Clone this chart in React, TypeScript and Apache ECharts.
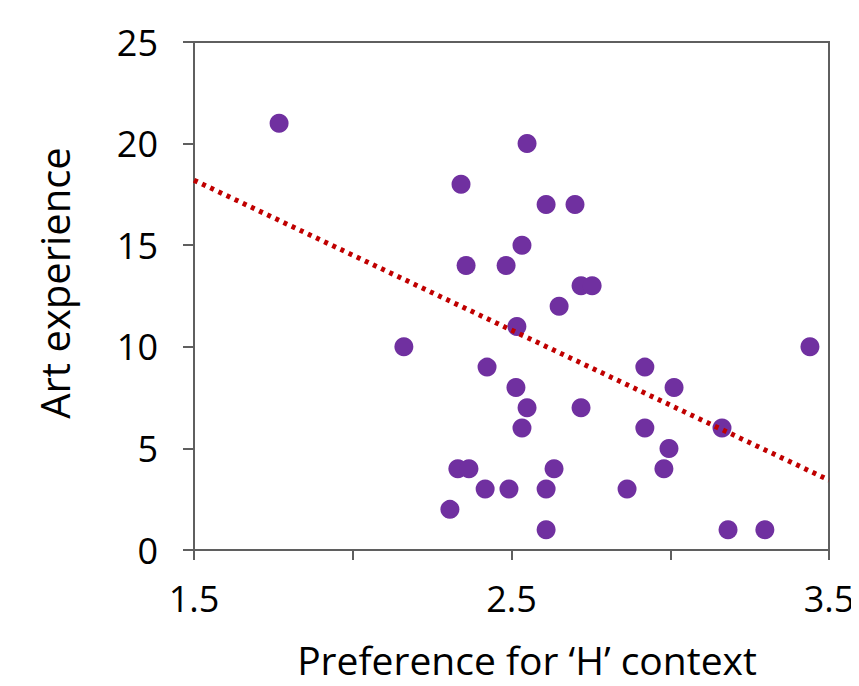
import React, { useEffect, useRef } from "react";
import * as echarts from "echarts";

const prefH: number[] = [
  1.768, 2.549, 2.341, 2.609, 2.7, 2.533, 2.357, 2.483, 2.719, 2.754, 2.65, 2.517,
  2.161, 3.44, 2.423, 2.92, 2.514, 3.012, 2.549, 2.719, 2.533, 2.92, 3.163, 2.996,
  2.331, 2.366, 2.634, 2.98, 2.417, 2.492, 2.609, 2.864, 2.306, 2.609, 3.182, 3.298,
];
const artExp: number[] = [
  21, 20, 18, 17, 17, 15, 14, 14, 13, 13, 12, 11,
  10, 10, 9, 9, 8, 8, 7, 7, 6, 6, 6, 5,
  4, 4, 4, 4, 3, 3, 3, 3, 2, 1, 1, 1,
];
const trendX: number[] = [1.5, 3.5];
const trendY: number[] = [18.2, 3.44];
const xLabelsShown: number[] = [1.5, 2.5, 3.5];
const xTitle = "Preference for \u2018H\u2019 context";
const yTitle = "Art experience";

const FONT = "'Open Sans', 'Noto Sans', sans-serif";

export default function App() {
  const ref = useRef<HTMLDivElement>(null);
  useEffect(() => {
    if (!ref.current) return;
    const chart = echarts.init(ref.current, null, { renderer: "svg" });
    const axisColor = "#5f5f5f";
    chart.setOption({
      animation: false,
      backgroundColor: "#ffffff",
      grid: {
        left: 194,
        right: 30,
        top: 42,
        bottom: 136,
        show: true,
        borderColor: axisColor,
        borderWidth: 2,
        backgroundColor: "transparent",
      },
      xAxis: {
        type: "value",
        min: 1.5,
        max: 3.5,
        interval: 0.5,
        axisLine: { show: true, onZero: false, lineStyle: { color: axisColor, width: 2 } },
        axisTick: { show: true, length: 10, lineStyle: { color: axisColor, width: 2 } },
        splitLine: { show: false },
        axisLabel: {
          margin: 30,
          fontSize: 36,
          fontFamily: FONT,
          color: "#000",
          formatter: (v: number) =>
            xLabelsShown.some((s) => Math.abs(s - v) < 1e-6) ? String(v) : "",
        },
      },
      yAxis: {
        type: "value",
        min: 0,
        max: 25,
        interval: 5,
        axisLine: { show: true, onZero: false, lineStyle: { color: axisColor, width: 2 } },
        axisTick: { show: true, length: 11, lineStyle: { color: axisColor, width: 2 } },
        splitLine: { show: false },
        axisLabel: {
          margin: 36,
          fontSize: 36,
          fontFamily: FONT,
          color: "#000",
        },
      },
      graphic: [
        {
          type: "text",
          x: 527,
          y: 659,
          style: {
            text: xTitle,
            fontSize: 39,
            fontFamily: FONT,
            fill: "#000",
            align: "center",
            verticalAlign: "middle",
          },
        },
        {
          type: "text",
          x: 54,
          y: 283,
          rotation: Math.PI / 2,
          style: {
            text: yTitle,
            fontSize: 40,
            fontFamily: FONT,
            fill: "#000",
            align: "center",
            verticalAlign: "middle",
          },
        },
      ],
      series: [
        {
          type: "scatter",
          data: prefH.map((x, i) => [x, artExp[i]]),
          symbol: "circle",
          symbolSize: 19,
          itemStyle: { color: "#7030A0", opacity: 1 },
          z: 3,
        },
        {
          type: "line",
          data: trendX.map((x, i) => [x, trendY[i]]),
          symbol: "none",
          lineStyle: { color: "#C00000", width: 5, type: [4, 5] },
          z: 4,
        },
      ],
    });
    return () => chart.dispose();
  }, []);
  return <div ref={ref} style={{ width: 859, height: 686, margin: -8 }} />;
}
